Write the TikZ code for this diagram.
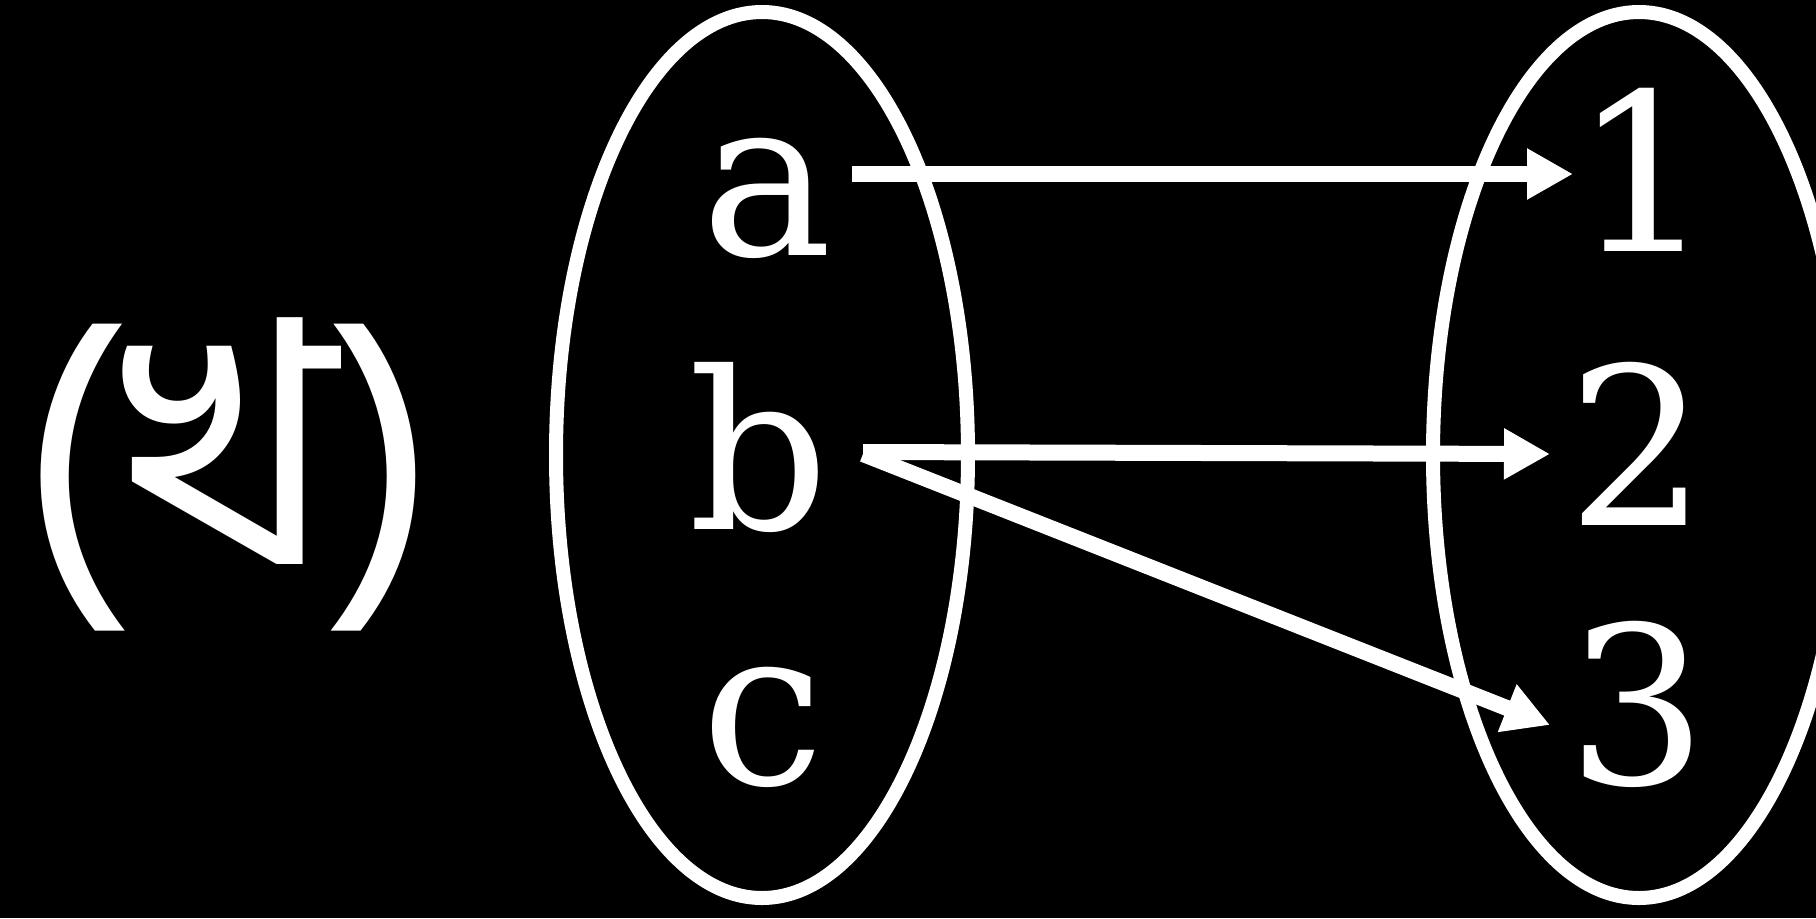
\documentclass[tikz,border=0pt]{standalone}
\usepackage{fontspec}
\usetikzlibrary{arrows.meta}
\newfontfamily\bnfont[Script=Bengali]{Hind Siliguri}
\newfontfamily\lblfont{DejaVu Serif}
\begin{document}
\begin{tikzpicture}[x=0.5pt,y=-0.5pt,
  setring/.style={draw=white,line width=7pt},
  elem/.style={text=white,font=\lblfont\fontsize{110}{120}\selectfont,inner sep=0pt,anchor=base},
  maparrow/.style={draw=white,line width=8pt,-{Triangle[length=23pt,width=24pt]}}]
\fill[black] (0,0) rectangle (1816,918);
\useasboundingbox (0,0) rectangle (1816,918);
\draw[setring] (762,455) ellipse [x radius=206, y radius=443];
\draw[setring] (1639,455) ellipse [x radius=206, y radius=443];
\node[text=white,font=\bnfont\fontsize{170}{180}\selectfont,inner sep=0pt] (lbl) at (228,474) {(খ)};
\node[elem] (a) at (767,255) {a};
\node[elem] (b) at (759,529) {b};
\node[elem] (c) at (763,784) {c};
\node[elem] (n1) at (1643,251) {1};
\node[elem] (n2) at (1637,525) {2};
\node[elem] (n3) at (1637,784) {3};
\coordinate (as) at (852,174);
\coordinate (bs) at (863,452);
\coordinate (bs2) at (863,454);
\coordinate (e1) at (1573,174);
\coordinate (e2) at (1550,454);
\coordinate (e3) at (1550,725);
\draw[maparrow] (as) -- (e1);
\draw[maparrow] (bs) -- (e2);
\draw[maparrow] (bs2) -- (e3);
\end{tikzpicture}
\end{document}
